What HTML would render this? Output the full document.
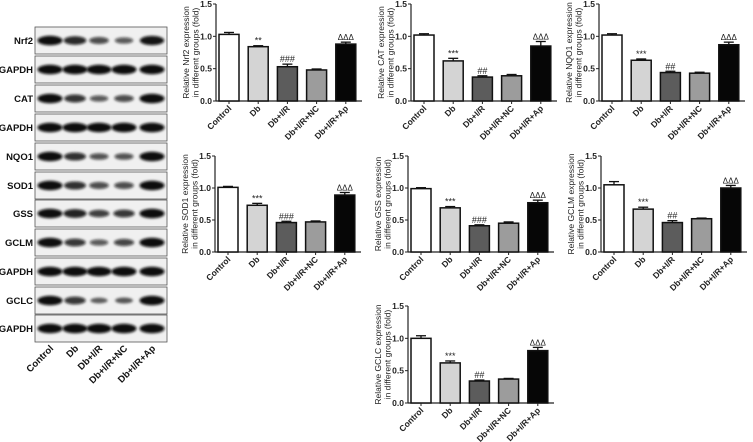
<!DOCTYPE html>
<html><head><meta charset="utf-8"><style>
html,body{margin:0;padding:0;background:#fff;}
svg{display:block;font-family:"Liberation Sans",Arial,sans-serif;}
</style></head><body>
<svg id="fig" width="753" height="442" viewBox="0 0 753 442">
<defs><filter id="blur" x="-50%" y="-200%" width="200%" height="500%"><feGaussianBlur stdDeviation="1.2"/></filter></defs>
<g id="blot"></g>
<g id="charts"></g>
</svg>
<script>
const NS='http://www.w3.org/2000/svg';
function mk(tag,attrs,parent){const e=document.createElementNS(NS,tag);for(const k in attrs)e.setAttribute(k,attrs[k]);if(parent)parent.appendChild(e);return e;}

// ---- blot data ----
const blotLabels=['Nrf2','GAPDH','CAT','GAPDH','NQO1','SOD1','GSS','GCLM','GAPDH','GCLC','GAPDH'];
const blotTops=[27,56,85,114,143,172,200,229,258,287,315];
const blotIntensity=[
[1,0.8,0.55,0.45,0.95],[1,1,1,1,1],[1,0.72,0.45,0.55,1],[1,1,1,1,1],
[1,0.75,0.5,0.5,1],[1,0.75,0.55,0.55,1],[1,0.85,0.65,0.7,1],[1,0.7,0.45,0.6,1],
[1,1,1,1,1],[1,0.7,0.35,0.4,1],[1,1,1,1,1]];
const laneX=[50,75,99,124,152];
const groups=['Control','Db','Db+I/R','Db+I/R+NC','Db+I/R+Ap'];

const blot=document.getElementById('blot');
blotLabels.forEach((lab,i)=>{
  const y=blotTops[i];
  const r=mk('rect',{x:35,y:y,width:132,height:27,fill:'#f0f0f0',stroke:'#555','stroke-width':0.8},blot);
  
  
  blotIntensity[i].forEach((v,j)=>{
    const b=mk('ellipse',{cx:laneX[j],cy:y+13.5,rx:6.5+6*v,ry:1.8+3*v,fill:'#0a0a0a','fill-opacity':0.4+0.6*v,filter:'url(#blur)'},blot);
    
    
  });
  const t=mk('text',{x:33,y:y+17,'text-anchor':'end','font-size':9.5,'font-weight':'bold',fill:'#111'},blot);
  t.textContent=lab;
  
  
});
groups.forEach((g,j)=>{
  const t=mk('text',{x:0,y:0,'text-anchor':'end','font-size':9.5,'font-weight':'bold',fill:'#111',transform:`translate(${laneX[j]+4},${349}) rotate(-45)`},blot);
  t.textContent=g;
  
  
});

// ---- chart data ----
const chartNames=['Nrf2','CAT','NQO1','SOD1','GSS','GCLM','GCLC'];
const nrf2Vals=[1.03,0.84,0.53,0.48,0.88], nrf2Err=[0.03,0.015,0.04,0.015,0.03];
const catVals=[1.02,0.62,0.37,0.39,0.85], catErr=[0.02,0.04,0.02,0.02,0.07];
const nqo1Vals=[1.02,0.63,0.44,0.43,0.87], nqo1Err=[0.02,0.02,0.02,0.015,0.04];
const sod1Vals=[1.01,0.73,0.46,0.47,0.89], sod1Err=[0.015,0.03,0.02,0.015,0.04];
const gssVals=[0.99,0.69,0.41,0.45,0.77], gssErr=[0.015,0.02,0.015,0.02,0.04];
const gclmVals=[1.05,0.67,0.46,0.52,1.00], gclmErr=[0.05,0.03,0.03,0.01,0.04];
const gclcVals=[1.00,0.62,0.34,0.37,0.81], gclcErr=[0.04,0.03,0.015,0.01,0.05];
const allVals=[nrf2Vals,catVals,nqo1Vals,sod1Vals,gssVals,gclmVals,gclcVals];
const allErr=[nrf2Err,catErr,nqo1Err,sod1Err,gssErr,gclmErr,gclcErr];
const marks=[['','**','###','','ΔΔΔ'],['','***','##','','ΔΔΔ'],['','***','##','','ΔΔΔ'],['','***','###','','ΔΔΔ'],['','***','###','','ΔΔΔ'],['','***','##','','ΔΔΔ'],['','***','##','','ΔΔΔ']];
const yTicks=[0,0.5,1.0,1.5];
const yTickLabels=['0.0','0.5','1.0','1.5'];
const origins=[[216,101,4],[411,101,4],[599,101,4],[215,252,156],[408,252,156],[601,252,156],[408,403,306]];
const barFill=['#ffffff','#d4d4d4','#5c5c5c','#9c9c9c','#060606'];

const charts=document.getElementById('charts');
chartNames.forEach((name,ci)=>{
  const [ax,y0,y15]=origins[ci];
  const g=mk('g',{},charts);
  
  
  const ys=v=>y0-(v/1.5)*(y0-y15);
  const xs=j=>ax+3+j*29.2;
  const bw=20;
  mk('line',{x1:ax,y1:y15,x2:ax,y2:y0,stroke:'#222','stroke-width':1.2},g);
  mk('line',{x1:ax,y1:y0,x2:ax+146,y2:y0,stroke:'#222','stroke-width':1.2},g);
  yTicks.forEach((v,k)=>{
    mk('line',{x1:ax-3,y1:ys(v),x2:ax,y2:ys(v),stroke:'#222','stroke-width':1},g);
    const t=mk('text',{x:ax-4,y:ys(v)+3,'text-anchor':'end','font-size':8.5,'font-weight':'bold',fill:'#222'},g);
    t.textContent=yTickLabels[k];
    
    
  });
  const yt=mk('text',{'text-anchor':'middle','font-size':8.5,fill:'#222',transform:`translate(${ax-24},${(y0+y15)/2}) rotate(-90)`},g);
  
  
  const t1=mk('tspan',{x:0,dy:-3},yt);t1.textContent='Relative  '+name+'  expression';
  const t2=mk('tspan',{x:0,dy:9.5},yt);t2.textContent='in different groups (fold)';
  allVals[ci].forEach((v,j)=>{
    const x=xs(j), e=allErr[ci][j];
    const r=mk('rect',{x:x,y:ys(v),width:bw,height:y0-ys(v),fill:barFill[j],stroke:'#111','stroke-width':1.5},g);
    
    
    const cx=x+bw/2;
    mk('line',{x1:cx,y1:ys(v),x2:cx,y2:ys(v+e),stroke:'#111','stroke-width':1.3},g);
    mk('line',{x1:cx-5,y1:ys(v+e),x2:cx+5,y2:ys(v+e),stroke:'#111','stroke-width':1.3},g);
    mk('line',{x1:cx,y1:y0,x2:cx,y2:y0+3,stroke:'#222','stroke-width':1},g);
    if(marks[ci][j]){
      const isD=marks[ci][j][0]==='Δ';
      const m=mk('text',{x:cx,y:ys(v+e)-2,'text-anchor':'middle','font-size':isD?8:9,fill:'#222'},g);
      m.textContent=marks[ci][j];
      
      
    }
    const xl=mk('text',{'text-anchor':'end','font-size':8.5,'font-weight':'bold',fill:'#222',transform:`translate(${cx+3},${y0+8}) rotate(-45)`},g);
    xl.textContent=groups[j];
    
    
  });
});
</script>
</body></html>
